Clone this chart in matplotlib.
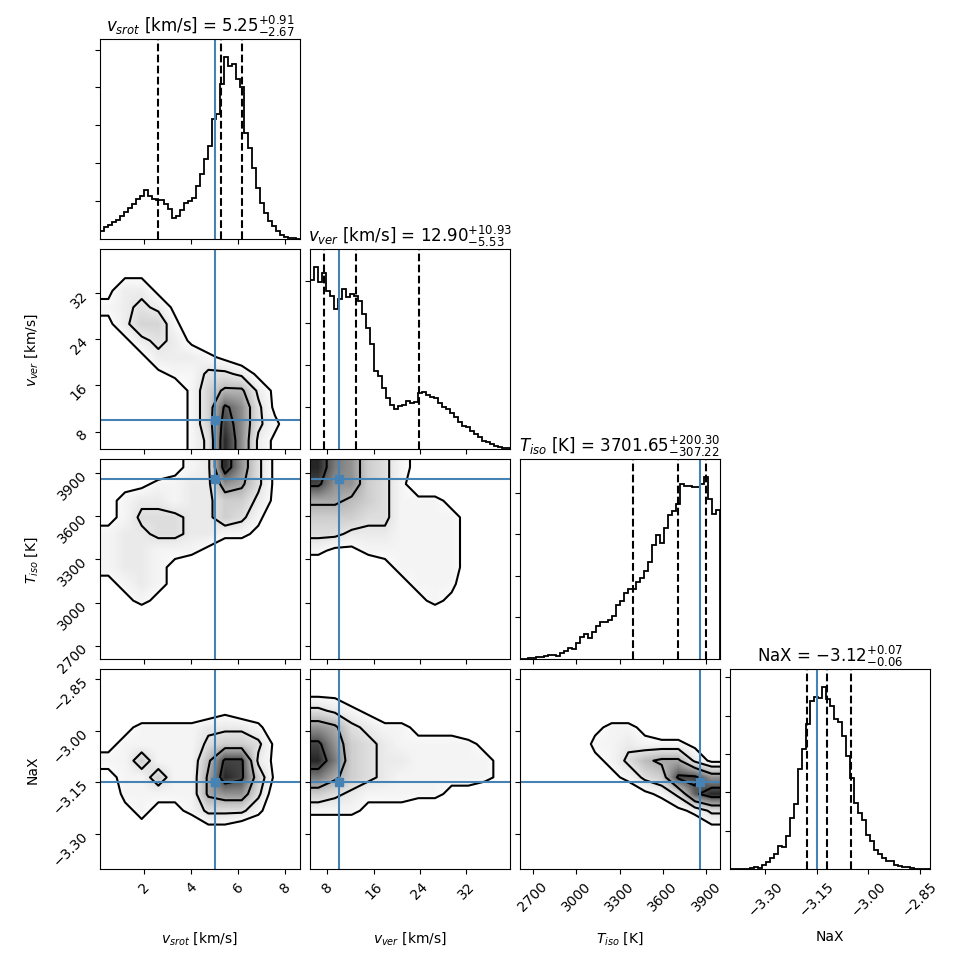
import numpy as np
import matplotlib
matplotlib.use("Agg")
import matplotlib.pyplot as plt
from matplotlib.colors import LinearSegmentedColormap, PowerNorm
from matplotlib.ticker import MaxNLocator, FixedLocator, NullFormatter

# parameters
labels = [r"$v_{srot}$ [km/s]", r"$v_{ver}$ [km/s]", r"$T_{iso}$ [K]", "NaX"]
limits = [(0.10, 8.64), (4.98, 39.65), (2610.0, 3996.0), (-3.403, -2.821)]
ticks = [[2, 4, 6, 8], [8, 16, 24, 32], [2700, 3000, 3300, 3600, 3900],
         [-3.30, -3.15, -3.00, -2.85]]
truths = [5.0, 10.0, 3860.0, -3.15]
medians = [5.25, 12.90, 3701.65, -3.12]
err_lo = [2.67, 5.53, 307.22, 0.06]
err_hi = [0.91, 10.93, 200.30, 0.07]

# 1d marginal histograms (counts per bin, bins span the axis range)
hist_vsrot = [102, 155, 190, 225, 256, 300, 358, 411, 464, 530, 574, 653, 574, 530, 521, 512,
              468, 397, 278, 309, 380, 477, 508, 543, 698, 852, 1051, 1227, 1581, 1647, 2044,
              2400, 2287, 2309, 2110, 2000, 1404, 1205, 940, 675, 477, 344, 234, 168, 102, 57,
              26, 13, 9, 4]
hist_vver = [1605, 1730, 1589, 1670, 1508, 1459, 1328, 1426, 1524, 1442, 1475, 1459, 1410, 1280,
             1149, 1003, 742, 694, 580, 482, 417, 384, 410, 417, 456, 433, 449, 531, 547, 514,
             498, 482, 433, 400, 384, 345, 303, 254, 221, 205, 173, 140, 117, 78, 65, 52, 33,
             16, 10, 7]
hist_tiso = [3, 3, 7, 10, 16, 20, 26, 39, 36, 29, 59, 75, 107, 98, 150, 215, 238, 205, 260, 319,
             361, 358, 374, 417, 521, 563, 638, 677, 671, 742, 781, 847, 931, 1101, 1198, 1117,
             1263, 1387, 1426, 1491, 1687, 1670, 1670, 1654, 1654, 1687, 1752, 1540, 1394, 1433]
hist_nax = [0, 0, 4, 4, 4, 9, 22, 17, 48, 92, 140, 201, 296, 288, 427, 667, 841, 1299, 1561,
            1888, 2193, 2237, 2224, 2370, 2215, 2119, 1953, 1918, 1735, 1474, 1190, 863, 732,
            645, 449, 362, 253, 201, 144, 109, 109, 57, 35, 22, 22, 13, 4, 4, 0, 0]
hists = [hist_vsrot, hist_vver, hist_tiso, hist_nax]

# 2d densities, 12x12 cells over the axis ranges, first row = top of panel
dens_vver_vsrot = [
    [0, 0, 0, 0, 0, 0, 0, 0, 0, 0, 0, 0],
    [0, 1, 1, 0, 0, 0, 0, 0, 0, 0, 0, 0],
    [1, 3, 3, 1, 0, 0, 0, 0, 0, 0, 0, 0],
    [2, 3, 4, 3, 1, 0, 0, 0, 0, 0, 0, 0],
    [1, 3, 5, 5, 2, 0, 0, 0, 0, 0, 0, 0],
    [0, 1, 3, 4, 3, 1, 0, 0, 0, 0, 0, 0],
    [0, 0, 1, 3, 3, 3, 2, 1, 0, 0, 0, 0],
    [0, 0, 0, 1, 2, 2, 4, 4, 3, 1, 0, 0],
    [0, 0, 0, 0, 0, 2, 5, 7, 7, 3, 1, 0],
    [0, 0, 0, 0, 0, 2, 5, 11, 9, 4, 1, 0],
    [0, 0, 0, 0, 0, 2, 5, 12, 9, 4, 2, 0],
    [0, 0, 0, 0, 0, 2, 4, 13, 9, 3, 1, 0],
]
dens_tiso_vsrot = [
    [0, 0, 0, 0, 1, 2, 3, 12, 8, 4, 1, 0],
    [0, 1, 1, 2, 2, 3, 3, 8, 7, 4, 1, 0],
    [1, 2, 3, 3, 2, 3, 3, 5, 5, 3, 1, 0],
    [1, 2, 4, 4, 4, 3, 3, 5, 4, 2, 0, 0],
    [2, 3, 3, 4, 4, 3, 3, 2, 2, 1, 0, 0],
    [2, 3, 3, 2, 2, 2, 1, 0, 0, 0, 0, 0],
    [2, 3, 3, 2, 1, 0, 0, 0, 0, 0, 0, 0],
    [1, 2, 3, 2, 1, 0, 0, 0, 0, 0, 0, 0],
    [0, 1, 2, 1, 0, 0, 0, 0, 0, 0, 0, 0],
    [0, 0, 0, 0, 0, 0, 0, 0, 0, 0, 0, 0],
    [0, 0, 0, 0, 0, 0, 0, 0, 0, 0, 0, 0],
    [0, 0, 0, 0, 0, 0, 0, 0, 0, 0, 0, 0],
]
dens_tiso_vver = [
    [12, 9, 8, 5, 4, 2, 1, 0, 0, 0, 0, 0],
    [11, 8, 8, 5, 4, 2, 0, 0, 0, 0, 0, 0],
    [7, 7, 6, 5, 4, 2, 2, 2, 1, 0, 0, 0],
    [5, 5, 5, 4, 4, 2, 2, 2, 2, 1, 0, 0],
    [4, 4, 3, 3, 3, 2, 2, 2, 2, 1, 0, 0],
    [2, 1, 1, 2, 2, 2, 2, 2, 2, 1, 0, 0],
    [0, 0, 0, 0, 1, 2, 2, 2, 2, 1, 0, 0],
    [0, 0, 0, 0, 0, 1, 2, 2, 2, 0, 0, 0],
    [0, 0, 0, 0, 0, 0, 1, 2, 1, 0, 0, 0],
    [0, 0, 0, 0, 0, 0, 0, 0, 0, 0, 0, 0],
    [0, 0, 0, 0, 0, 0, 0, 0, 0, 0, 0, 0],
    [0, 0, 0, 0, 0, 0, 0, 0, 0, 0, 0, 0],
]
dens_nax_vsrot = [
    [0, 0, 0, 0, 0, 0, 0, 0, 0, 0, 0, 0],
    [0, 0, 0, 0, 0, 0, 0, 0, 0, 0, 0, 0],
    [0, 0, 0, 0, 0, 0, 0, 1, 0, 0, 0, 0],
    [0, 1, 2, 2, 2, 2, 3, 3, 3, 2, 0, 0],
    [1, 2, 2, 2, 2, 2, 4, 5, 5, 4, 1, 0],
    [2, 2, 5, 2, 2, 2, 6, 11, 11, 3, 1, 0],
    [1, 2, 2, 5, 2, 2, 7, 12, 11, 5, 1, 0],
    [0, 2, 2, 2, 2, 2, 7, 8, 8, 4, 0, 0],
    [0, 1, 2, 1, 1, 2, 4, 4, 4, 2, 0, 0],
    [0, 0, 1, 0, 0, 0, 1, 1, 0, 0, 0, 0],
    [0, 0, 0, 0, 0, 0, 0, 0, 0, 0, 0, 0],
    [0, 0, 0, 0, 0, 0, 0, 0, 0, 0, 0, 0],
]
dens_nax_vver = [
    [0, 0, 0, 0, 0, 0, 0, 0, 0, 0, 0, 0],
    [1, 1, 0, 0, 0, 0, 0, 0, 0, 0, 0, 0],
    [4, 3, 2, 1, 0, 0, 0, 0, 0, 0, 0, 0],
    [8, 7, 4, 3, 2, 2, 1, 1, 1, 0, 0, 0],
    [11, 8, 5, 4, 3, 2, 2, 2, 2, 2, 1, 0],
    [12, 9, 5, 4, 3, 3, 2, 2, 2, 2, 2, 1],
    [9, 7, 5, 4, 3, 2, 2, 2, 2, 2, 2, 1],
    [5, 4, 3, 2, 2, 2, 2, 2, 1, 1, 0, 0],
    [2, 2, 2, 1, 1, 1, 0, 0, 0, 0, 0, 0],
    [0, 0, 0, 0, 0, 0, 0, 0, 0, 0, 0, 0],
    [0, 0, 0, 0, 0, 0, 0, 0, 0, 0, 0, 0],
    [0, 0, 0, 0, 0, 0, 0, 0, 0, 0, 0, 0],
]
dens_nax_tiso = [
    [0, 0, 0, 0, 0, 0, 0, 0, 0, 0, 0, 0],
    [0, 0, 0, 0, 0, 0, 0, 0, 0, 0, 0, 0],
    [0, 0, 0, 0, 0, 0, 0, 0, 0, 0, 0, 0],
    [0, 0, 0, 0, 1, 2, 2, 1, 0, 0, 0, 0],
    [0, 0, 0, 0, 2, 2, 3, 2, 2, 2, 1, 0],
    [0, 0, 0, 0, 1, 2, 4, 6, 7, 7, 3, 1],
    [0, 0, 0, 0, 0, 1, 2, 4, 5, 11, 11, 8],
    [0, 0, 0, 0, 0, 0, 0, 1, 2, 4, 10, 12],
    [0, 0, 0, 0, 0, 0, 0, 0, 0, 1, 2, 4],
    [0, 0, 0, 0, 0, 0, 0, 0, 0, 0, 0, 1],
    [0, 0, 0, 0, 0, 0, 0, 0, 0, 0, 0, 0],
    [0, 0, 0, 0, 0, 0, 0, 0, 0, 0, 0, 0],
]
density = {(1, 0): dens_vver_vsrot, (2, 0): dens_tiso_vsrot, (2, 1): dens_tiso_vver,
           (3, 0): dens_nax_vsrot, (3, 1): dens_nax_vver, (3, 2): dens_nax_tiso}

# contour levels in the density units above (2, 1.5, 1 and 0.5 sigma)
levels = [1.5, 3.5, 6.5, 10.5]

truth_color = "#4682b4"
dens_cmap = LinearSegmentedColormap.from_list("dens", ["white", "0.15"])

K = 4
dim = 9.7
lb = 1.0 / dim
tr = 9.3 / dim
fig, axes = plt.subplots(K, K, figsize=(dim, dim), dpi=100)
fig.subplots_adjust(left=lb, bottom=lb, right=tr, top=tr, wspace=0.05, hspace=0.05)

for i in range(K):
    for j in range(K):
        ax = axes[i, j]
        if j > i:
            ax.set_frame_on(False)
            ax.set_xticks([])
            ax.set_yticks([])
            continue

        if i == j:
            counts = np.array(hists[i], dtype=float)
            edges = np.linspace(limits[i][0], limits[i][1], len(counts) + 1)
            ax.stairs(counts, edges, color="k", lw=1.3)
            q = [medians[i] - err_lo[i], medians[i], medians[i] + err_hi[i]]
            for v in q:
                ax.axvline(v, ls="dashed", color="k", lw=1.5)
            ax.axvline(truths[i], color=truth_color, lw=1.5)
            ax.set_ylim(0, 1.1 * counts.max())
            ax.yaxis.set_major_locator(MaxNLocator(6, prune="lower"))
            ax.yaxis.set_major_formatter(NullFormatter())
            title = r"{0} = ${{{1:.2f}}}_{{-{2:.2f}}}^{{+{3:.2f}}}$".format(
                labels[i], medians[i], err_lo[i], err_hi[i])
            ax.set_title(title, fontsize=12)
        else:
            h = np.flipud(np.array(density[(i, j)], dtype=float))
            x0, x1 = limits[j]
            y0, y1 = limits[i]
            ny, nx = h.shape
            dx = (x1 - x0) / nx
            dy = (y1 - y0) / ny
            ax.imshow(h, extent=(x0, x1, y0, y1), origin="lower", aspect="auto",
                      cmap=dens_cmap, interpolation="bilinear",
                      norm=PowerNorm(gamma=1.7, vmin=0, vmax=h.max()))
            hp = np.pad(h, 1, mode="edge")
            xc = x0 + dx * (np.arange(nx + 2) - 0.5)
            yc = y0 + dy * (np.arange(ny + 2) - 0.5)
            ax.contourf(xc, yc, hp, levels=[-1, levels[0]], colors="white")
            ax.contour(xc, yc, hp, levels=levels, colors="k", linewidths=1.5)
            ax.axvline(truths[j], color=truth_color, lw=1.5)
            ax.axhline(truths[i], color=truth_color, lw=1.5)
            ax.plot(truths[j], truths[i], "s", color=truth_color)
            ax.set_ylim(limits[i])
            ax.yaxis.set_major_locator(FixedLocator(ticks[i]))
            if j == 0:
                ax.ticklabel_format(axis="y", useOffset=False)
                ax.tick_params(axis="y", labelrotation=45)
                ax.set_ylabel(labels[i])
                ax.yaxis.set_label_coords(-0.3, 0.5)
            else:
                ax.yaxis.set_major_formatter(NullFormatter())

        ax.set_xlim(limits[j])
        ax.xaxis.set_major_locator(FixedLocator(ticks[j]))
        if i == K - 1:
            ax.ticklabel_format(axis="x", useOffset=False)
            ax.tick_params(axis="x", labelrotation=45)
            ax.set_xlabel(labels[j])
            ax.xaxis.set_label_coords(0.5, -0.3)
        else:
            ax.xaxis.set_major_formatter(NullFormatter())

fig.savefig("out.png", dpi=100)
